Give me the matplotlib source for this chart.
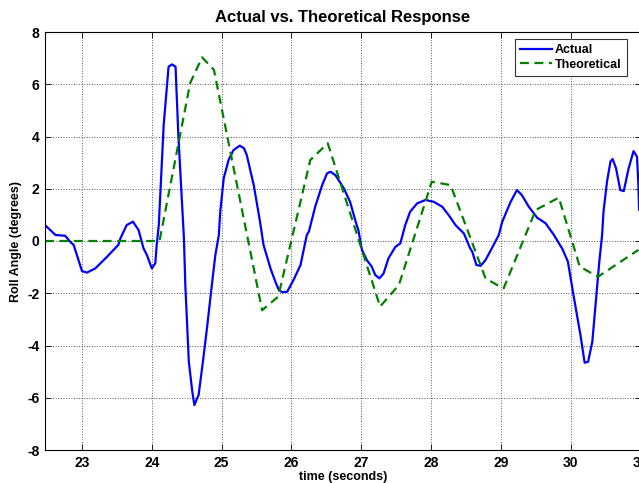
import matplotlib
matplotlib.use("Agg")
import matplotlib.pyplot as plt

plt.rcParams['font.family'] = ['Liberation Sans', 'DejaVu Sans']
plt.rcParams['font.weight'] = 'bold'
plt.rcParams['axes.unicode_minus'] = False

t_actual = [22.47, 22.62, 22.76, 22.83, 22.88, 23.00, 23.07, 23.19, 23.36, 23.52,
            23.55, 23.64, 23.73, 23.81, 23.88, 23.93, 24.00, 24.05, 24.07, 24.10,
            24.17, 24.24, 24.29, 24.34, 24.38, 24.46, 24.48, 24.53, 24.58, 24.61,
            24.65, 24.67, 24.72, 24.79, 24.86, 24.91, 24.96, 24.98, 25.03, 25.10,
            25.17, 25.26, 25.32, 25.36, 25.46, 25.55, 25.60, 25.70, 25.77, 25.82,
            25.87, 25.94, 26.03, 26.13, 26.22, 26.25, 26.34, 26.44, 26.51, 26.56,
            26.63, 26.75, 26.84, 26.92, 26.96, 27.01, 27.08, 27.15, 27.20, 27.26,
            27.32, 27.39, 27.49, 27.56, 27.63, 27.70, 27.80, 27.92, 28.04, 28.16,
            28.25, 28.35, 28.47, 28.56, 28.59, 28.65, 28.71, 28.78, 28.87, 28.97,
            29.02, 29.14, 29.23, 29.30, 29.40, 29.52, 29.64, 29.76, 29.88, 29.96,
            30.04, 30.14, 30.20, 30.25, 30.31, 30.36, 30.41, 30.45, 30.47, 30.52,
            30.57, 30.60, 30.65, 30.71, 30.76, 30.83, 30.90, 30.95, 30.97, 30.98]
roll_actual = [0.61, 0.23, 0.20, -0.03, -0.15, -1.15, -1.21, -1.05, -0.60, -0.15,
               0.10, 0.61, 0.74, 0.42, -0.27, -0.54, -1.05, -0.85, -0.15, 0.61,
               4.44, 6.67, 6.76, 6.67, 4.06, 0.10, -1.68, -4.62, -5.77, -6.28,
               -6.02, -5.90, -4.87, -3.34, -1.68, -0.54, 0.23, 1.12, 2.40, 3.10,
               3.48, 3.65, 3.55, 3.29, 2.14, 0.74, -0.15, -1.05, -1.56, -1.88,
               -1.96, -1.94, -1.49, -0.92, 0.23, 0.36, 1.31, 2.14, 2.59, 2.65,
               2.52, 2.02, 1.50, 0.74, 0.40, -0.34, -0.73, -0.98, -1.30, -1.43,
               -1.24, -0.66, -0.22, -0.09, 0.61, 1.12, 1.44, 1.57, 1.50, 1.31,
               1.00, 0.61, 0.29, -0.28, -0.41, -0.92, -0.95, -0.73, -0.28, 0.23,
               0.74, 1.50, 1.95, 1.76, 1.31, 0.89, 0.68, 0.23, -0.30, -0.79,
               -2.07, -3.60, -4.66, -4.62, -3.85, -2.32, -0.79, 0.23, 1.12, 2.27,
               3.04, 3.14, 2.78, 1.95, 1.91, 2.78, 3.44, 3.23, 2.14, 1.20]

# theoretical response
t_theory = [22.47, 24.11, 24.55, 24.72, 24.89, 25.58, 25.81, 26.27, 26.52,
            27.27, 27.54, 28.01, 28.28, 28.78, 28.99, 29.04, 29.50, 29.83,
            30.13, 30.39, 30.97]
roll_theory = [0.0, 0.0, 6.05, 7.03, 6.55, -2.65, -2.13, 3.10, 3.74,
               -2.51, -1.68, 2.27, 2.14, -1.43, -1.75, -1.81, 1.19, 1.66,
               -0.98, -1.37, -0.34]

fig = plt.figure(figsize=(6.39, 4.83), dpi=100)
ax = fig.add_axes([45 / 639, 33 / 483, 595.5 / 639, 418 / 483])

ax.plot(t_actual, roll_actual, color=(0, 0, 1), lw=1.6, label='Actual')
ax.plot(t_theory, roll_theory, color=(0, 0.5, 0), lw=1.6, ls='--',
        dashes=(4, 2.5), label='Theoretical')

ax.set_xlim(22.47, 31)
ax.set_ylim(-8, 8)
ax.set_xticks(range(23, 32))
ax.set_yticks(range(-8, 9, 2))
ax.grid(True, ls=':', color='0.35', lw=0.7)
ax.tick_params(direction='in', length=4, width=0.6, top=True, right=True,
               labelsize=10, pad=4)
for s in ax.spines.values():
    s.set_linewidth(0.8)

ax.set_title('Actual vs. Theoretical Response', fontsize=12, fontweight='bold', pad=7)
ax.set_xlabel('time (seconds)', fontsize=9, fontweight='bold', labelpad=1)
ax.set_ylabel('Roll Angle (degrees)', fontsize=9, fontweight='bold', labelpad=4)

leg = ax.legend(loc='upper right', fontsize=9, fancybox=False, framealpha=1,
                edgecolor='0.2', handlelength=2.6, borderpad=0.4,
                labelspacing=0.2, handletextpad=0.25, borderaxespad=0,
                bbox_to_anchor=(0.977, 0.983))
leg.get_frame().set_linewidth(0.8)

fig.savefig('out.png', dpi=100)
